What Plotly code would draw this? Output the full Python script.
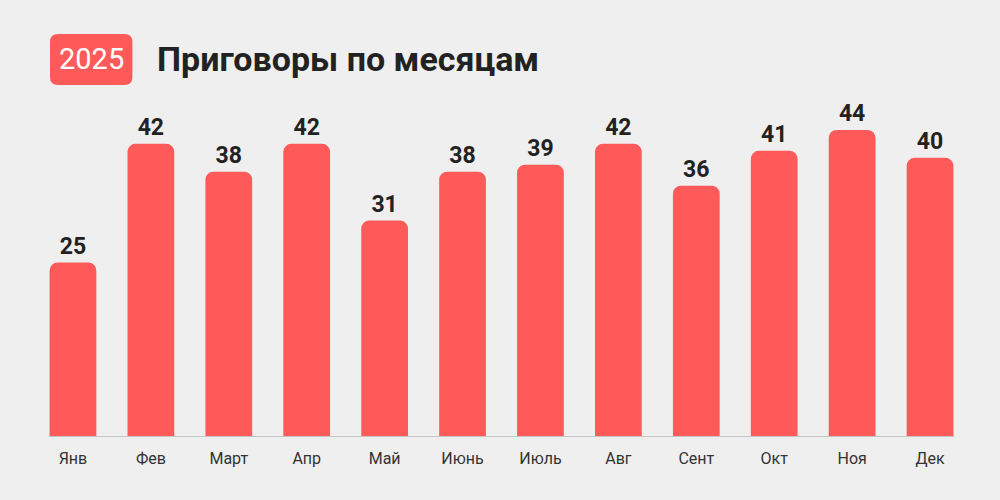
import plotly.graph_objects as go

months = ['Янв', 'Фев', 'Март', 'Апр', 'Май', 'Июнь', 'Июль', 'Авг', 'Сент', 'Окт', 'Ноя', 'Дек']
verdicts = [25, 42, 38, 42, 31, 38, 39, 42, 36, 41, 44, 40]

title_text = 'Приговоры по месяцам'
year_text = '2025'

RED = '#ff5a5a'
BG = '#efefef'

# pixel -> paper helpers (plot area: x 33.5..969.5, y 88..437)
L, R, T, B = 33.5, 969.5, 88, 437
def px(x):
    return (x - L) / (R - L)
def py(y):
    return (B - y) / (B - T)

fig = go.Figure()
fig.add_trace(go.Bar(
    x=months, y=verdicts,
    marker=dict(color=RED, line=dict(width=0)),
    texttemplate='%{y}', textposition='outside',
    textfont=dict(family='Roboto', size=23, color='#222222', weight='bold'),
    cliponaxis=False,
    hoverinfo='skip',
))

# baseline
fig.add_shape(type='line', xref='x', yref='y', x0=-0.31, x1=11.31, y0=0, y1=0,
              line=dict(color='#c4c4c4', width=2), layer='above')

# year badge (rounded rect)
x0, x1, y0, y1, r = 49.5, 132, 34, 85, 8
rx, ry = r / (R - L), r / (B - T)
a, b, c, d = px(x0), px(x1), py(y1), py(y0)
path = (f'M {a+rx},{c} L {b-rx},{c} Q {b},{c} {b},{c+ry} L {b},{d-ry} Q {b},{d} {b-rx},{d} '
        f'L {a+rx},{d} Q {a},{d} {a},{d-ry} L {a},{c+ry} Q {a},{c} {a+rx},{c} Z')
fig.add_shape(type='path', xref='paper', yref='paper', path=path,
              fillcolor=RED, line=dict(width=0))

fig.add_annotation(text=year_text, xref='paper', yref='paper', x=px(91), y=py(59),
                   xanchor='center', yanchor='middle', showarrow=False,
                   font=dict(family='Roboto', size=29, color='white'))
fig.add_annotation(text=f'<b>{title_text}</b>', xref='paper', yref='paper', x=px(155), y=py(59),
                   xanchor='left', yanchor='middle', showarrow=False,
                   font=dict(family='Roboto', size=34, color='#222222'))

fig.update_layout(
    width=1000, height=500,
    margin=dict(l=L, r=1000 - R, t=T, b=500 - B),
    paper_bgcolor=BG, plot_bgcolor=BG,
    bargap=0.4,
    barcornerradius=8,
    showlegend=False,
    font=dict(family='Roboto'),
)
fig.update_xaxes(showgrid=False, showline=False, zeroline=False,
                 tickfont=dict(family='Roboto', size=16, color='#333333'),
                 ticks='outside', ticklen=7, tickcolor='rgba(0,0,0,0)')
fig.update_yaxes(range=[0, 50], visible=False, fixedrange=True)

fig.write_html('out.html', config={'displayModeBar': False},
               post_script="document.body.style.margin='0';")
